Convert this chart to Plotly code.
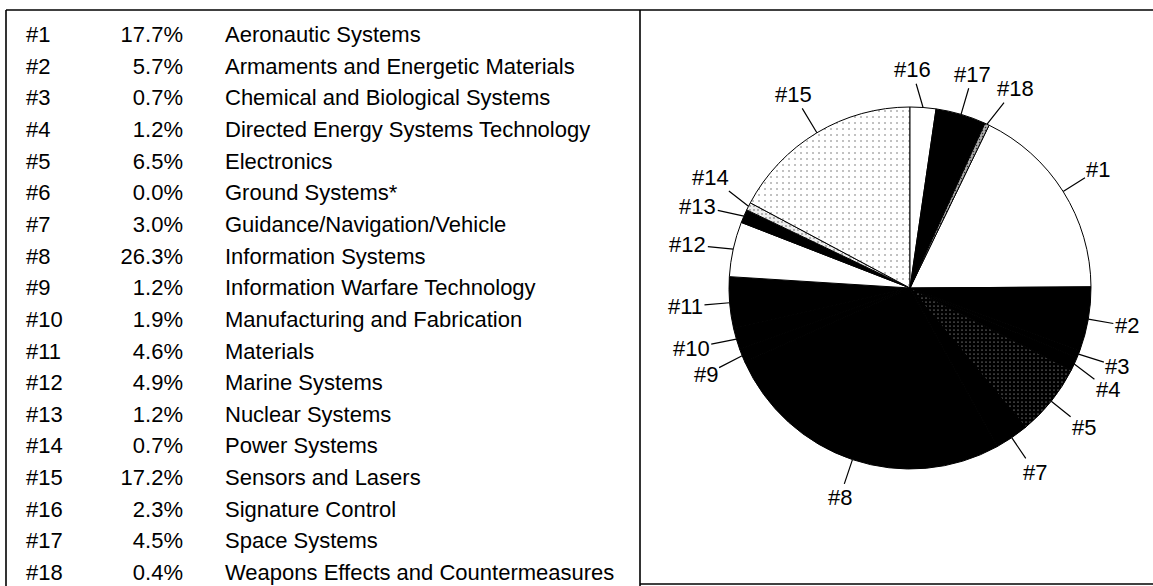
import math
import plotly.graph_objects as go

# ---------------- data ----------------
ids = ["#1", "#2", "#3", "#4", "#5", "#6", "#7", "#8", "#9", "#10",
       "#11", "#12", "#13", "#14", "#15", "#16", "#17", "#18"]
shares = [17.7, 5.7, 0.7, 1.2, 6.5, 0.0, 3.0, 26.3, 1.2, 1.9,
          4.6, 4.9, 1.2, 0.7, 17.2, 2.3, 4.5, 0.4]
names = [
    "Aeronautic Systems",
    "Armaments and Energetic Materials",
    "Chemical and Biological Systems",
    "Directed Energy Systems Technology",
    "Electronics",
    "Ground Systems*",
    "Guidance/Navigation/Vehicle",
    "Information Systems",
    "Information Warfare Technology",
    "Manufacturing and Fabrication",
    "Materials",
    "Marine Systems",
    "Nuclear Systems",
    "Power Systems",
    "Sensors and Lasers",
    "Signature Control",
    "Space Systems",
    "Weapons Effects and Countermeasures",
]
pct_labels = [f"{v:.1f}%" for v in shares]

# slice fills (scanned black/white/stipple look)
fill_colors = ["white", "black", "black", "black", "black", "white", "black", "black",
               "black", "black", "black", "white", "black", "white", "white", "white",
               "black", "white"]
pat_shapes = ["", "", "", "", ".", "", "", "", "", "", "", "", "", ".", ".", "", "", "."]
pat_fg = ["black", "black", "black", "black", "white", "black", "black", "black", "black",
          "black", "black", "black", "black", "#555555", "#555555", "black", "black", "#333333"]
pat_bg = ["white", "black", "black", "black", "black", "white", "black", "black", "black",
          "black", "black", "white", "black", "#eeeeee", "white", "white", "black", "#aaaaaa"]
pat_size = [4, 4, 4, 4, 4, 4, 4, 4, 4, 4, 4, 4, 4, 4, 6, 4, 4, 3]
pat_solid = [0.1, 0.1, 0.1, 0.1, 0.05, 0.1, 0.1, 0.1, 0.1, 0.1, 0.1, 0.1, 0.1, 0.1, 0.04, 0.1, 0.1, 0.2]

# small angular nudges (degrees) to spread crowded labels, like the original
label_nudge = {"#3": -0.7, "#4": 2.3, "#9": -1.0, "#10": 1.0, "#12": -1.4,
               "#13": -2.3, "#14": 2.3, "#16": -3.6, "#18": 2.6}

# ---------------- layout geometry ----------------
W, H = 1153, 586
FONT = "Liberation Sans, Arial, Helvetica, sans-serif"
FS = 22
cx, cy, R = 910, 288, 181
pie_dx = [(cx - R) / W, (cx + R) / W]
pie_dy = [(H - cy - R) / H, (H - cy + R) / H]

total = sum(shares)
# the last three categories sit before #1, starting at 12 o'clock
rotation = 360.0 * sum(shares[15:]) / total

fig = go.Figure()

fig.add_trace(go.Pie(
    values=shares,
    labels=ids,
    sort=False,
    direction="clockwise",
    rotation=rotation,
    textinfo="none",
    hoverinfo="skip",
    showlegend=False,
    domain=dict(x=pie_dx, y=pie_dy),
    marker=dict(
        colors=fill_colors,
        line=dict(color="black", width=1),
        pattern=dict(shape=pat_shapes, fgcolor=pat_fg, bgcolor=pat_bg,
                     size=pat_size, solidity=pat_solid, fillmode="replace"),
    ),
))

# overlay axes over the pie, in units of pie radius (for label leaders)
fig.update_layout(
    xaxis=dict(domain=pie_dx, range=[-1, 1], visible=False, fixedrange=True),
    yaxis=dict(domain=pie_dy, range=[-1, 1], visible=False, fixedrange=True),
)

annotations = []
cum = 0.0
for lab, v in zip(ids, shares):
    mid = rotation + 360.0 * (cum + v / 2) / total
    cum += v
    if v <= 0:
        continue
    t = math.radians(mid)
    s, c = math.sin(t), math.cos(t)
    tl = math.radians(mid + label_nudge.get(lab, 0.0))
    sl, cl = math.sin(tl), math.cos(tl)
    half_w = len(lab) * 0.556 * FS / 2
    half_h = FS * 0.55
    extent = abs(sl) * half_w + abs(cl) * half_h
    rt = 1.0 + (25 + extent) / R
    annotations.append(dict(
        x=s, y=c, xref="x", yref="y",
        ax=rt * sl, ay=rt * cl, axref="x", ayref="y",
        text=lab, showarrow=True, arrowhead=0, arrowwidth=1.2, arrowcolor="black",
        standoff=0, startstandoff=0,
        font=dict(family=FONT, size=FS, color="black"),
    ))

# ---------------- table (left panel) ----------------
x2_max = 640
row0, row_step = 36.5, 31.65
y_top = -row0 / row_step
y_bot = (H - row0) / row_step
fig.update_layout(
    xaxis2=dict(domain=[0, x2_max / W], range=[0, x2_max], visible=False, fixedrange=True,
                anchor="y2"),
    yaxis2=dict(domain=[0, 1], range=[y_bot, y_top], visible=False, fixedrange=True,
                anchor="x2"),
)
rows = list(range(len(ids)))
col_style = dict(mode="text", xaxis="x2", yaxis="y2", hoverinfo="skip", showlegend=False,
                 textfont=dict(family=FONT, size=FS, color="black"))
fig.add_trace(go.Scatter(x=[26] * len(ids), y=rows, text=ids,
                         textposition="middle right", **col_style))
fig.add_trace(go.Scatter(x=[183] * len(ids), y=rows, text=pct_labels,
                         textposition="middle left", **col_style))
fig.add_trace(go.Scatter(x=[225] * len(ids), y=rows, text=names,
                         textposition="middle right", **col_style))

# ---------------- frame lines ----------------
def px(x):
    return x / W

def py(y):
    return 1 - y / H

line = dict(color="black", width=1.6)
shapes = [
    dict(type="line", xref="paper", yref="paper", x0=px(6), x1=px(1153), y0=py(10), y1=py(10), line=line),
    dict(type="line", xref="paper", yref="paper", x0=px(6), x1=px(6), y0=py(10), y1=py(586), line=line),
    dict(type="line", xref="paper", yref="paper", x0=px(640), x1=px(640), y0=py(10), y1=py(586), line=line),
    dict(type="line", xref="paper", yref="paper", x0=px(640), x1=px(1153), y0=py(584), y1=py(584), line=line),
]

fig.update_layout(
    width=W, height=H,
    margin=dict(l=0, r=0, t=0, b=0),
    paper_bgcolor="white", plot_bgcolor="rgba(0,0,0,0)",
    annotations=annotations,
    shapes=shapes,
    font=dict(family=FONT, size=FS, color="black"),
    showlegend=False,
)

fig.write_html("out.html",
               config={"displayModeBar": False},
               post_script="document.body.style.margin='0px';document.body.style.overflow='hidden';")
